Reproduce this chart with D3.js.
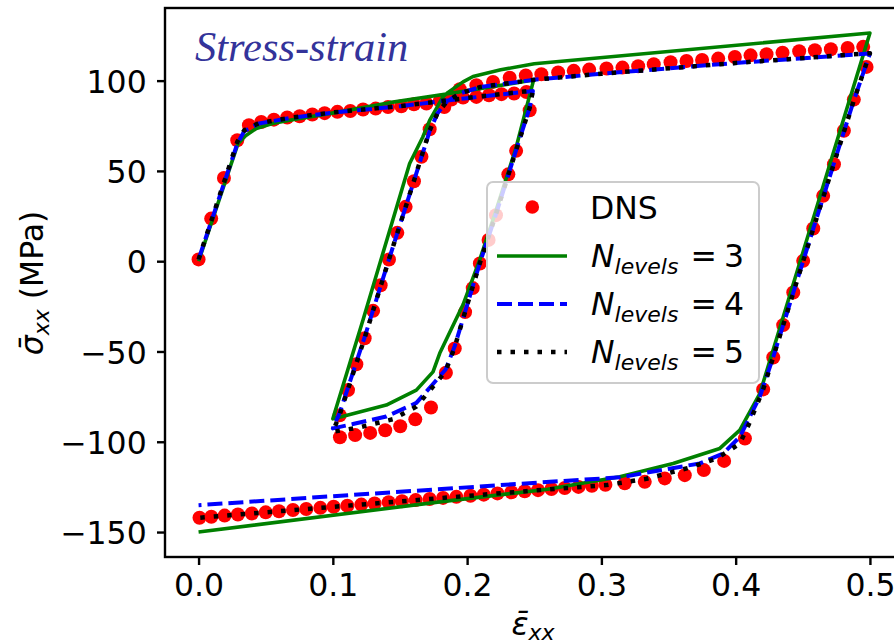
<!DOCTYPE html>
<html>
<head>
<meta charset="utf-8">
<script src="https://cdn.jsdelivr.net/npm/d3@7"></script>
<style>
  html, body { margin: 0; padding: 0; background: #fff; }
  svg { display: block; }
</style>
</head>
<body>
<script>
// ---------- data ----------
const dnsStrain = [
  0, 0.0094, 0.0189, 0.0288, 0.0375, 0.0467, 0.0561, 0.066, 0.0753, 0.0847, 0.0939, 0.1034, 0.113, 0.1225, 0.1319, 0.1411, 0.151, 0.1604, 0.1697, 0.1796, 0.1883, 0.197, 0.2069, 0.2163, 0.2256, 0.235, 0.2442,
  0.2466, 0.2365, 0.2307, 0.2215, 0.216, 0.2095, 0.2042, 0.1985, 0.1908, 0.1842, 0.1731, 0.1614, 0.1502, 0.139, 0.1278, 0.1166, 0.1053,
  0.1051, 0.1113, 0.1175, 0.1237, 0.13, 0.1356, 0.1418, 0.148, 0.1542, 0.1604, 0.166, 0.1721, 0.183, 0.1945, 0.2069, 0.2193, 0.2317, 0.2437, 0.2553, 0.2678, 0.2794, 0.2909, 0.3038, 0.3157, 0.3274, 0.339, 0.3515, 0.3634, 0.375, 0.387, 0.3994, 0.4111, 0.423, 0.4349, 0.4473, 0.459, 0.4709, 0.4834, 0.495,
  0.4975, 0.488, 0.4806, 0.4732, 0.4652, 0.4578, 0.4503, 0.4429, 0.4354, 0.428, 0.4205, 0.4069, 0.3914, 0.3763, 0.3621, 0.3472, 0.3323, 0.3174, 0.303, 0.2929, 0.2829, 0.2727, 0.2628, 0.2528, 0.2429, 0.233, 0.2226, 0.2124, 0.2025, 0.192, 0.1821, 0.1721, 0.1617, 0.1515, 0.1416, 0.1311, 0.1212, 0.1108, 0.1006, 0.0907, 0.0802, 0.0703, 0.0599, 0.05, 0.0397, 0.0293, 0.0194, 0.0095, 0.0007
];
const dnsStress = [
  1, 23.6, 46.1, 67, 75.3, 77.1, 78.4, 79.6, 80.3, 81.2, 82, 82.7, 83.2, 84, 84.5, 85.4, 85.8, 86.9, 87.3, 88.8, 89.5, 90.6, 91, 91.9, 92.5, 92.9, 93.7,
  83.6, 61.1, 48.1, 25.5, 11.8, -1.3, -14.9, -28.2, -48.3, -61.8, -81, -87.6, -91.4, -93.6, -95.1, -96.3, -97.5,
  -85.3, -71.4, -57.1, -42.7, -27.5, -13.3, 0.9, 15.7, 30.1, 44.3, 57.8, 73.1, 85.4, 95.2, 97.5, 99.3, 101.6, 102.8, 103.5, 104.5, 105.4, 106.1, 106.7, 107.2, 108, 109.1, 110.2, 110.9, 111.4, 112.2, 113.1, 114, 114.6, 115.4, 116.3, 116.8, 117.4, 118.1, 118.7,
  107.6, 89.5, 72.2, 53.7, 36.2, 18.1, 0.2, -17.3, -35.4, -53.3, -71, -98.2, -110.6, -115.7, -118.5, -120.3, -122.2, -123, -123.8, -124.4, -125, -125.6, -126.2, -126.8, -127.4, -128, -128.6, -129.3, -129.9, -130.5, -131.1, -131.7, -132.3, -132.9, -133.5, -134.2, -134.8, -135.4, -136, -136.6, -137.2, -137.8, -138.5, -139.1, -139.7, -140.3, -140.9, -141.5, -142.1
];

// N_levels = 3 (green)
const n3Strain = [0, 0.0293, 0.035, 0.043, 0.055, 0.0678, 0.105, 0.1423, 0.182, 0.2495,
  0.2365, 0.2215, 0.2095, 0.197, 0.1796, 0.1746, 0.1622, 0.1398, 0.1063, 0.1,
  0.1224, 0.1572, 0.167, 0.1721, 0.182, 0.1858, 0.197, 0.2044, 0.225, 0.25, 0.5,
  0.418, 0.4031, 0.3882, 0.3534, 0.3137, 0.26, 0.1796, 0];
const n3Stress = [0, 65, 69.5, 73.5, 76.3, 78.1, 82.7, 87.8, 92.3, 100.3,
  63, 28, 1, -24, -51, -61.3, -71.4, -79.7, -86.2, -87.3,
  -32.7, 54.1, 68.8, 78, 91, 93.5, 99.3, 102.3, 106, 109.3, 126.4,
  -73.3, -93.6, -103.7, -112, -119.4, -126.3, -133.3, -150];

// N_levels = 4 (blue dashed)
const n4Strain = [0, 0.0288, 0.034, 0.045, 0.07, 0.1, 0.15, 0.2, 0.249,
  0.2466, 0.2365, 0.2215, 0.2095, 0.1985, 0.1908, 0.184, 0.1746, 0.1622, 0.1398, 0.115, 0.1,
  0.1051, 0.1237, 0.1418, 0.1604, 0.1721, 0.178, 0.185, 0.195, 0.21, 0.25, 0.3, 0.4, 0.5,
  0.488, 0.4578, 0.428, 0.418, 0.4031, 0.3907, 0.3733, 0.3137, 0.2616, 0];
const n4Stress = [1, 65, 72, 76.3, 79.5, 82.3, 85.8, 90.3, 94.3,
  85, 61.5, 26, -1, -28, -47, -60, -68, -78.5, -86, -90.2, -92.6,
  -84, -42, 1, 44.5, 72, 82, 88.5, 93, 96.5, 100.5, 103.8, 109.8, 115,
  89, 18, -53, -75, -97.3, -106.5, -112, -119.7, -122.2, -135.1];

// N_levels = 5 (black dotted)
const n5Strain = [0, 0.0288, 0.034, 0.045, 0.07, 0.1, 0.15, 0.2, 0.249,
  0.2466, 0.2365, 0.2215, 0.2095, 0.1985, 0.1908, 0.184, 0.1746, 0.1622, 0.1448, 0.12, 0.1,
  0.1051, 0.1237, 0.1418, 0.1604, 0.1721, 0.178, 0.185, 0.195, 0.21, 0.25, 0.3, 0.4, 0.5,
  0.488, 0.4578, 0.428, 0.4205, 0.41, 0.4031, 0.3858, 0.3659, 0.3336, 0.3038, 0.25, 0];
const n5Stress = [1, 66, 72.5, 76.5, 79.6, 82.4, 85.9, 90.4, 94.5,
  85, 61.5, 26, -1, -28, -47.5, -61, -69.5, -80.5, -87.5, -92, -94.5,
  -85, -42.5, 1, 44.5, 72.5, 82, 88.5, 93, 96.5, 100.5, 103.8, 109.8, 115.2,
  89, 18, -53, -71, -90, -101, -109.3, -114.3, -120.5, -124, -127, -142.1];

const xTicks = [0, 0.1, 0.2, 0.3, 0.4, 0.5];
const xTickLabels = ["0.0", "0.1", "0.2", "0.3", "0.4", "0.5"];
const yTicks = [-150, -100, -50, 0, 50, 100];
const yTickLabels = ["\u2212150", "\u2212100", "\u221250", "0", "50", "100"];

// ---------- drawing ----------
const W = 894, H = 644;
const L = 165, T = 8, R = 903.5, B = 557;
const svg = d3.select("body").append("svg").attr("width", W).attr("height", H);
svg.append("rect").attr("width", W).attr("height", H).attr("fill", "#fff");

const x = d3.scaleLinear().domain([-0.025, 0.525]).range([L, R]);
const y = d3.scaleLinear().domain([-163.82, 140.22]).range([B, T]);

const FONT = "'DejaVu Sans', sans-serif";
const FS = 31.5;

// DNS markers
const dns = dnsStrain.map((s, i) => [s, dnsStress[i]]);
svg.append("g").selectAll("circle").data(dns).join("circle")
  .attr("cx", d => x(d[0])).attr("cy", d => y(d[1])).attr("r", 7).attr("fill", "#ff0000");

const line = d3.line().x(d => x(d[0])).y(d => y(d[1]));
function drawSeries(sx, sy, color, width, dash) {
  const p = svg.append("path").datum(sx.map((s, i) => [s, sy[i]]))
    .attr("d", line).attr("fill", "none").attr("stroke", color)
    .attr("stroke-width", width).attr("stroke-linejoin", "round");
  if (dash) p.attr("stroke-dasharray", dash);
  return p;
}
drawSeries(n3Strain, n3Stress, "#008000", 3.6, null);
drawSeries(n4Strain, n4Stress, "#0000ff", 4, "15,6");
drawSeries(n5Strain, n5Stress, "#000000", 4.5, "4.5,9");

// axes
const xAxis = svg.append("g").attr("transform", `translate(0,${B})`)
  .call(d3.axisBottom(x).tickValues(xTicks).tickFormat((d, i) => xTickLabels[i]).tickSize(8).tickPadding(8.5));
const yAxis = svg.append("g").attr("transform", `translate(${L},0)`)
  .call(d3.axisLeft(y).tickValues(yTicks).tickFormat((d, i) => yTickLabels[i]).tickSize(8).tickPadding(10.3));
[xAxis, yAxis].forEach(a => {
  a.select(".domain").remove();
  a.selectAll(".tick line").attr("stroke", "#000").attr("stroke-width", 2.4);
  a.selectAll(".tick text").attr("fill", "#000").style("font-family", FONT).style("font-size", FS + "px");
});
yAxis.selectAll(".tick text").attr("dy", "0.37em");

// frame
svg.append("rect").attr("x", L).attr("y", T).attr("width", R - L).attr("height", B - T)
  .attr("fill", "none").attr("stroke", "#000").attr("stroke-width", 2.4);

// title
svg.append("text").attr("x", 195).attr("y", 61)
  .style("font-family", "'Liberation Serif', 'Times New Roman', serif")
  .style("font-style", "italic").style("font-size", "42.5px").attr("fill", "#33339a")
  .text("Stress-strain");

// y label
const yl = svg.append("text").attr("transform", "translate(43,283) rotate(-90)")
  .attr("text-anchor", "middle").style("font-family", FONT).style("font-size", FS + "px").attr("fill", "#000");
yl.append("tspan").style("font-style", "italic").text("\u03C3\u0304");
yl.append("tspan").style("font-style", "italic").style("font-size", "22px").attr("dy", 6).text("xx");
yl.append("tspan").attr("dy", -6).text("\u00A0(MPa)");

// x label
const xl = svg.append("text").attr("x", 533).attr("y", 635)
  .attr("text-anchor", "middle").style("font-family", FONT).style("font-size", FS + "px").attr("fill", "#000");
xl.append("tspan").style("font-style", "italic").text("\u03B5\u0304");
xl.append("tspan").style("font-style", "italic").style("font-size", "22px").attr("dy", 5).text("xx");

// legend
const lg = svg.append("g");
lg.append("rect").attr("x", 487).attr("y", 182).attr("width", 272).attr("height", 201).attr("rx", 6)
  .attr("fill", "#fff").attr("fill-opacity", 0.8).attr("stroke", "#cccccc").attr("stroke-width", 2);
const legendLabels = ["DNS", "3", "4", "5"];
const rowY = [207, 256, 304, 352];
lg.append("circle").attr("cx", 532.3).attr("cy", rowY[0]).attr("r", 6.8).attr("fill", "#ff0000");
lg.append("line").attr("x1", 497).attr("x2", 567).attr("y1", rowY[1]).attr("y2", rowY[1])
  .attr("stroke", "#008000").attr("stroke-width", 3.6);
lg.append("line").attr("x1", 497).attr("x2", 567).attr("y1", rowY[2]).attr("y2", rowY[2])
  .attr("stroke", "#0000ff").attr("stroke-width", 4).attr("stroke-dasharray", "15,6");
lg.append("line").attr("x1", 497).attr("x2", 567).attr("y1", rowY[3]).attr("y2", rowY[3])
  .attr("stroke", "#000").attr("stroke-width", 4.5).attr("stroke-dasharray", "4.5,9");

lg.append("text").attr("x", 590).attr("y", rowY[0] + 12).style("font-family", FONT).style("font-size", FS + "px")
  .attr("fill", "#000").text(legendLabels[0]);
for (let i = 1; i < 4; i++) {
  const t = lg.append("text").attr("y", rowY[i] + 11).style("font-family", FONT).style("font-size", FS + "px").attr("fill", "#000");
  t.append("tspan").attr("x", 591).style("font-style", "italic").text("N");
  t.append("tspan").style("font-style", "italic").style("font-size", "22px").attr("dy", 6.5).text("levels");
  t.append("tspan").attr("x", 690.5).attr("dy", -6.5).text("=");
  t.append("tspan").attr("x", 724).text(legendLabels[i]);
}
</script>
</body>
</html>
